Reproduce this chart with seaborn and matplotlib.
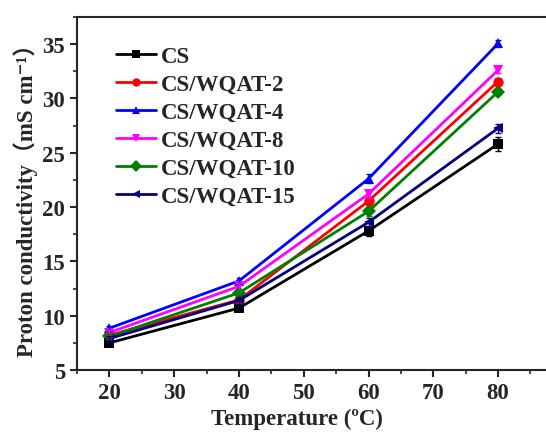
import matplotlib
matplotlib.use("Agg")
import matplotlib.pyplot as plt
import seaborn as sns
import pandas as pd
import numpy as np
from matplotlib.ticker import MultipleLocator

temperature = [20, 40, 60, 80]
series_names = ["CS", "CS/WQAT-2", "CS/WQAT-4", "CS/WQAT-8", "CS/WQAT-10", "CS/WQAT-15"]
cs = [7.5, 10.7, 17.8, 25.8]
wqat2 = [8.2, 11.45, 20.55, 31.55]
wqat4 = [8.85, 13.2, 22.6, 35.05]
wqat8 = [8.45, 12.7, 21.2, 32.6]
wqat10 = [8.1, 12.1, 19.6, 30.6]
wqat15 = [7.9, 11.4, 18.6, 27.25]
cs_err = [0.2, 0.3, 0.5, 0.6]
wqat2_err = [0.2, 0.3, 0.4, 0.3]
wqat4_err = [0.2, 0.3, 0.4, 0.3]
wqat8_err = [0.2, 0.3, 0.4, 0.3]
wqat10_err = [0.2, 0.3, 0.4, 0.3]
wqat15_err = [0.2, 0.3, 0.4, 0.4]

values = [cs, wqat2, wqat4, wqat8, wqat10, wqat15]
errors = [cs_err, wqat2_err, wqat4_err, wqat8_err, wqat10_err, wqat15_err]
colors = ["#000000", "#ff0000", "#0000ff", "#ff00ff", "#008000", "#000080"]
markers = ["s", "o", "^", "v", "D", "<"]

sns.set_style("ticks")
fam = ["Liberation Serif", "Noto Sans CJK SC", "DejaVu Sans"]
plt.rcParams["font.family"] = fam
plt.rcParams["font.weight"] = "bold"

rows = []
for name, vals in zip(series_names, values):
    for t, v in zip(temperature, vals):
        rows.append({"Temperature": t, "Conductivity": v, "Sample": name})
df = pd.DataFrame(rows)

fig = plt.figure(figsize=(5.46, 4.35), dpi=100)
ax = fig.add_axes([0.141, 0.147, 0.859, 0.812])

sns.lineplot(data=df, x="Temperature", y="Conductivity", hue="Sample", style="Sample",
             hue_order=series_names, style_order=series_names,
             palette=dict(zip(series_names, colors)),
             markers=dict(zip(series_names, markers)), dashes=False,
             linewidth=2, markersize=7.5, markeredgewidth=0, ax=ax)

for vals, errs, c in zip(values, errors, colors):
    ax.errorbar(temperature, vals, yerr=errs, fmt="none", ecolor=c, elinewidth=1, capsize=2.5, capthick=1)

ax.set_xlim(15, 87.4)
ax.set_ylim(5, 37.5)
ax.xaxis.set_major_locator(MultipleLocator(10))
ax.xaxis.set_minor_locator(MultipleLocator(5))
ax.yaxis.set_major_locator(MultipleLocator(5))
ax.yaxis.set_minor_locator(MultipleLocator(2.5))

for s in ["left", "bottom", "top"]:
    ax.spines[s].set_linewidth(1.5)
ax.spines["right"].set_visible(False)
ax.tick_params(which="major", direction="out", length=5, width=1.5, labelsize=16.5, top=False, right=False)
ax.tick_params(which="minor", direction="out", length=3, width=1.2, top=False, right=False)
for lab in ax.get_xticklabels() + ax.get_yticklabels():
    lab.set_fontweight("bold")

ax.set_xlabel("Temperature (ºC)", fontsize=16.5, fontweight="bold", family=fam)
ax.xaxis.set_label_coords(0.469, -0.108)
ax.set_ylabel("Proton conductivity（mS cm⁻¹）", fontsize=16.5, fontweight="bold", labelpad=3, family=fam)

leg = ax.legend(loc="upper left", bbox_to_anchor=(0.04, 0.975), frameon=False,
                handlelength=1.75, handletextpad=0.2, labelspacing=0.3, markerscale=0.8,
                prop={"weight": "bold", "size": 16.5, "family": fam})

fig.savefig("out.png", dpi=100)
